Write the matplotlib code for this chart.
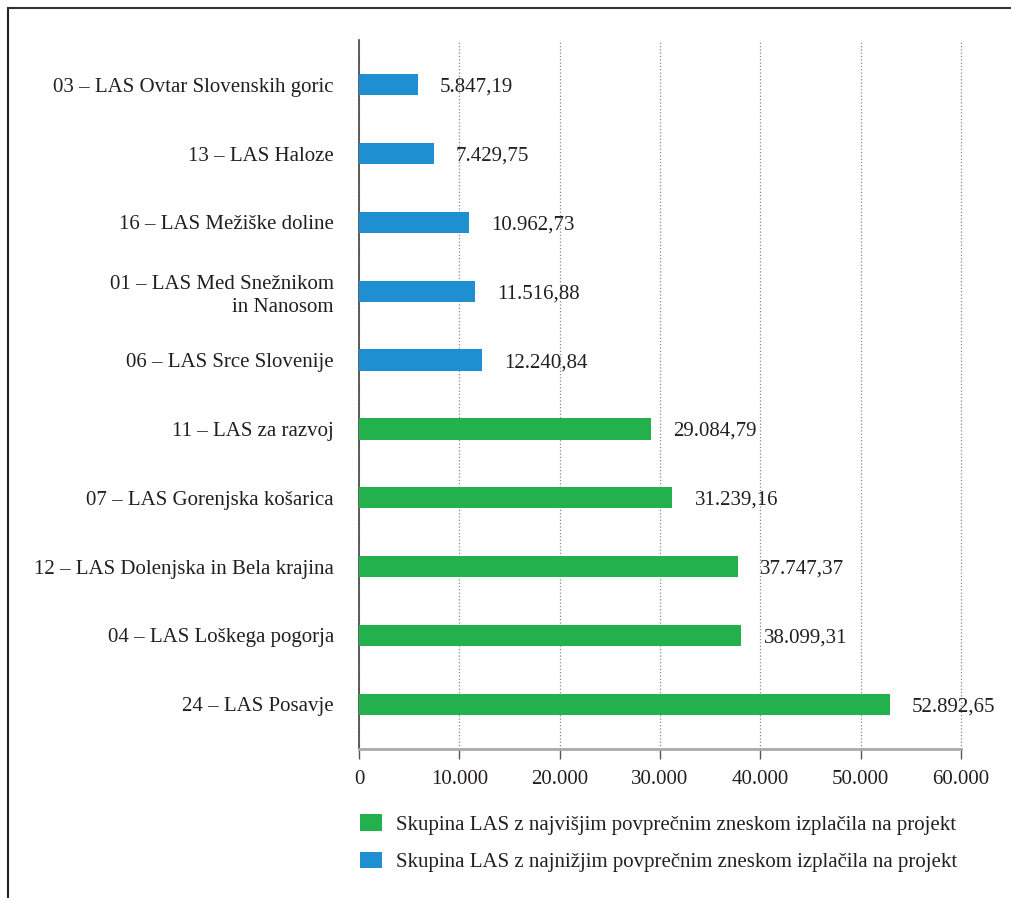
#!/usr/bin/env python3
"""
Povprečni znesek izplačila na projekt po LAS - horizontal bar chart
"""

import matplotlib
matplotlib.use('Agg')
import matplotlib.pyplot as plt
from matplotlib.patches import Patch
from matplotlib.lines import Line2D
from matplotlib.ticker import FuncFormatter

plt.rcParams['font.family'] = ['Liberation Serif', 'DejaVu Serif']

# Data (top to bottom)
las_names = [
    '03 – LAS Ovtar Slovenskih goric',
    '13 – LAS Haloze',
    '16 – LAS Mežiške doline',
    '01 – LAS Med Snežnikom\nin Nanosom',
    '06 – LAS Srce Slovenije',
    '11 – LAS za razvoj',
    '07 – LAS Gorenjska košarica',
    '12 – LAS Dolenjska in Bela krajina',
    '04 – LAS Loškega pogorja',
    '24 – LAS Posavje',
]
amounts = [5847.19, 7429.75, 10962.73, 11516.88, 12240.84,
           29084.79, 31239.16, 37747.37, 38099.31, 52892.65]
groups = ['low', 'low', 'low', 'low', 'low',
          'high', 'high', 'high', 'high', 'high']
x_ticks = [0, 10000, 20000, 30000, 40000, 50000, 60000]

GREEN = '#22b14c'
BLUE = '#1e90d2'
colors = {'high': GREEN, 'low': BLUE}
legend_labels = {
    'high': 'Skupina LAS z najvišjim povprečnim zneskom izplačila na projekt',
    'low': 'Skupina LAS z najnižjim povprečnim zneskom izplačila na projekt',
}
FS = 15
TXT = '#231f20'


def fmt_sl(val, decimals=2):
    s = f'{val:,.{decimals}f}'
    return s.replace(',', 'X').replace('.', ',').replace('X', '.')


fig = plt.figure(figsize=(10.12, 8.98), dpi=100)
ax = fig.add_axes([0.3547, 0.1659, 0.5949, 0.7896])

y = list(range(len(las_names)))
bars = ax.barh(y, amounts, height=0.31,
               color=[colors[g] for g in groups], zorder=3)

for bar, val in zip(bars, amounts):
    ax.annotate(fmt_sl(val), xy=(bar.get_width(), bar.get_y() + bar.get_height() / 2),
                xytext=(16, 0), textcoords='offset points',
                va='center_baseline', ha='left', fontsize=FS, color=TXT)

ax.set_ylim(len(las_names) - 0.35, -0.65)
ax.set_xlim(0, 60000)
ax.set_yticks(y)
ax.set_yticklabels(las_names, fontsize=FS, color=TXT, ha='right',
                   linespacing=1.3)
ax.set_xticks(x_ticks)
ax.xaxis.set_major_formatter(FuncFormatter(lambda v, p: fmt_sl(v, 0)))
ax.tick_params(axis='x', labelsize=FS, labelcolor=TXT, length=7, width=1,
               direction='out', pad=8, color='#555555')
ax.tick_params(axis='y', length=0, pad=18)
for lab in ax.get_yticklabels():
    lab.set_multialignment('right')

ax.grid(axis='x', color='#888888', linestyle=':', linewidth=0.9, zorder=0)
for gl in ax.get_xgridlines():
    gl.set_clip_on(False)
ax.spines['top'].set_visible(False)
ax.spines['right'].set_visible(False)
ax.spines['left'].set_color('#444444')
ax.spines['left'].set_linewidth(1.2)
ax.spines['bottom'].set_color('#aaaaaa')
ax.spines['bottom'].set_linewidth(2)

# Legend below the chart
handles = [Patch(facecolor=colors['high'], edgecolor='none'),
           Patch(facecolor=colors['low'], edgecolor='none')]
fig.legend(handles, [legend_labels['high'], legend_labels['low']],
           loc='upper left', bbox_to_anchor=(0.337, 0.114),
           frameon=False, fontsize=FS, handlelength=1.05, handleheight=0.85,
           handletextpad=0.67, labelspacing=0.8, labelcolor=TXT)

# Frame (left and top edges of the surrounding box)
fig.add_artist(Line2D([0.008, 0.008], [0, 0.991], transform=fig.transFigure,
                      color='#222222', linewidth=1.5))
fig.add_artist(Line2D([0.008, 1.0], [0.991, 0.991], transform=fig.transFigure,
                      color='#333333', linewidth=1.5))

plt.savefig('out.png', dpi=100)
plt.close()
